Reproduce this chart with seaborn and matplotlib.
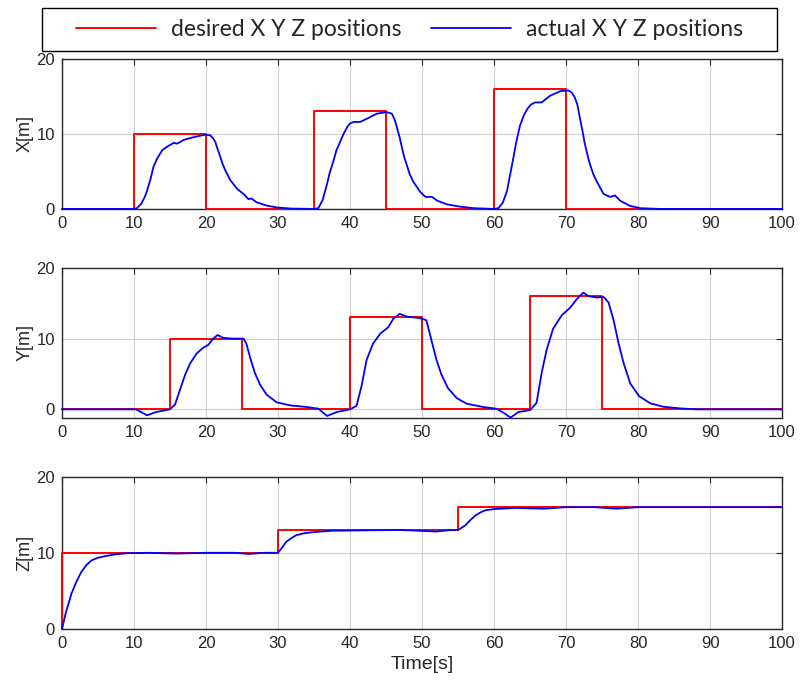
import matplotlib
matplotlib.use("Agg")
import matplotlib.pyplot as plt
from matplotlib.patches import Rectangle
import seaborn as sns

# desired step references (time of change, value)
x_des_t = [0, 10, 20, 35, 45, 60, 70, 100]
x_des = [0, 10, 0, 13, 0, 16, 0, 0]
y_des_t = [0, 15, 25, 40, 50, 65, 75, 100]
y_des = [0, 10, 0, 13, 0, 16, 0, 0]
z_des_t = [0, 0, 30, 55, 100]
z_des = [0, 10, 13, 16, 16]

# actual positions
x_time = [0, 10, 10.4, 11.0, 11.5, 11.8, 12.3, 12.7, 13.2, 13.9, 14.6, 15.5, 16.0, 16.9,
          18.0, 18.9, 19.9, 20.6, 21.0, 21.3, 21.6, 22.0, 22.3, 22.7, 23.4, 24.3, 25.2,
          25.9, 26.3, 27.0, 28.4, 29.8, 31.7, 35.0, 35.6, 36.2, 36.8, 37.2, 37.7, 38.1,
          38.6, 39.1, 39.6, 40.0, 40.5, 41.4, 42.3, 43.7, 45.1, 45.8, 46.2, 46.5, 46.9,
          47.2, 47.5, 47.9, 48.3, 48.8, 49.8, 50.5, 51.4, 52.1, 53.5, 55.3, 57.2, 60.0,
          60.6, 61.2, 61.8, 62.2, 62.7, 63.1, 63.6, 64.1, 64.6, 65.1, 65.7, 66.6, 67.8,
          69.2, 70.3, 70.8, 71.2, 71.6, 71.9, 72.3, 72.6, 73.0, 73.3, 73.8, 74.3, 75.2,
          76.1, 76.8, 77.5, 78.9, 80.3, 83, 100]
x_actual = [0, 0, 0.1, 0.7, 1.6, 2.4, 4.0, 5.6, 6.7, 7.8, 8.3, 8.8, 8.7, 9.2,
            9.5, 9.7, 9.9, 9.8, 9.4, 8.9, 8.0, 6.9, 6.0, 5.1, 3.8, 2.7, 2.0,
            1.3, 1.4, 0.9, 0.45, 0.2, 0.05, 0, 0.1, 1.2, 3.3, 4.9, 6.4, 7.8,
            8.9, 10.0, 10.9, 11.4, 11.6, 11.6, 12.0, 12.7, 12.9, 12.7, 11.9, 10.9, 9.5,
            8.2, 7.0, 5.8, 4.6, 3.6, 2.2, 1.6, 1.6, 1.1, 0.6, 0.3, 0.1, 0,
            0.1, 0.8, 2.4, 4.4, 6.9, 9.0, 11.1, 12.4, 13.3, 13.9, 14.2, 14.2, 15.1,
            15.7, 15.8, 15.5, 14.9, 13.8, 12.2, 10.3, 8.7, 7.1, 6.0, 4.6, 3.6, 2.0,
            1.6, 1.8, 1.1, 0.4, 0.1, 0, 0]

y_time = [0, 10.3, 11.0, 11.8, 13.1, 15.0, 15.7, 16.4, 17.1, 17.8, 18.7, 19.6, 20.3,
          21.0, 21.6, 22.4, 23.8, 25.2, 25.6, 26.1, 26.8, 27.5, 28.4, 29.8, 31.7, 34.0,
          35.6, 36.8, 38.2, 40.0, 40.9, 41.6, 42.3, 43.2, 44.2, 45.3, 46.0, 46.9, 47.9,
          49.7, 50.6, 51.3, 52.0, 52.7, 53.6, 54.8, 56.2, 58.5, 60.3, 61.2, 62.3, 63.4,
          65.0, 65.9, 66.6, 67.3, 68.2, 69.4, 70.6, 71.5, 72.4, 73.1, 74.3, 75.2, 75.9,
          76.6, 77.3, 78.0, 78.9, 80.1, 81.7, 83.5, 85.8, 88.1, 100]
y_actual = [0, 0, -0.4, -0.84, -0.37, 0, 0.7, 2.8, 4.9, 6.5, 7.9, 8.7, 9.1,
            10.0, 10.5, 10.1, 10.0, 10.0, 9.3, 7.4, 5.1, 3.5, 2.1, 1.0, 0.56, 0.33,
            0.1, -0.93, -0.37, 0, 0.5, 3.3, 7.0, 9.3, 10.7, 11.6, 12.8, 13.5, 13.1,
            12.9, 12.6, 9.8, 7.0, 4.9, 3.0, 1.6, 0.8, 0.33, 0.1, -0.4, -1.16, -0.37,
            -0.1, 0.9, 5.1, 8.4, 11.4, 13.3, 14.4, 15.6, 16.5, 16.0, 15.8, 15.9, 15.1,
            12.6, 9.3, 6.5, 3.7, 1.9, 0.84, 0.37, 0.14, 0, 0]

z_time = [0, 0.5, 1.3, 2.0, 2.7, 3.4, 4.1, 5.0, 6.2, 7.5, 9.1, 12, 16, 20, 24, 26, 28,
          30, 30.5, 31.1, 31.8, 32.5, 33.5, 34.7, 37.5, 42, 47, 52, 54, 55, 55.5, 56.0,
          56.7, 57.4, 58.1, 58.8, 60.0, 61.0, 63, 67, 70, 74, 77, 80, 85, 100]
z_actual = [0, 2.0, 4.6, 6.2, 7.5, 8.4, 9.0, 9.35, 9.6, 9.8, 9.95, 10.0, 9.9, 10.0, 10.0,
            9.85, 10.0, 10.0, 10.6, 11.4, 11.9, 12.3, 12.55, 12.7, 12.9, 12.95, 13.0, 12.8,
            13.0, 13.0, 13.3, 13.6, 14.3, 14.9, 15.3, 15.6, 15.75, 15.8, 15.9, 15.8, 16.0,
            16.0, 15.8, 16.0, 16.0, 16.0]

sns.set_style("white")
plt.rcParams['font.family'] = ['Liberation Sans', 'DejaVu Sans']

fig = plt.figure(figsize=(8.01, 6.85), dpi=100)
boxes = [[0.0774, 0.695, 0.899, 0.219],
         [0.0774, 0.390, 0.899, 0.219],
         [0.0774, 0.082, 0.899, 0.222]]
panels = [(x_des_t, x_des, x_time, x_actual, 'X[m]', (0, 20)),
          (y_des_t, y_des, y_time, y_actual, 'Y[m]', (-1.2, 20)),
          (z_des_t, z_des, z_time, z_actual, 'Z[m]', (0, 20))]

for box, (dt, dv, at, av, lab, ylim) in zip(boxes, panels):
    ax = fig.add_axes(box)
    sns.lineplot(x=dt, y=dv, ax=ax, color='#ff0000', lw=1.4, drawstyle='steps-post',
                 estimator=None, sort=False, label='desired X Y Z positions',
                 legend=False, zorder=3, clip_on=False)
    sns.lineplot(x=at, y=av, ax=ax, color='#0000ff', lw=1.3,
                 estimator=None, sort=False, label='actual X Y Z positions',
                 legend=False, zorder=3, clip_on=False)
    ax.set_xlim(0, 100)
    ax.set_ylim(*ylim)
    ax.set_xticks(range(0, 101, 10))
    ax.set_yticks([0, 10, 20])
    ax.grid(True, color='#d0d0d0', lw=0.8)
    ax.tick_params(direction='in', top=True, right=True, length=4, width=0.8,
                   colors='#262626', labelsize=12, pad=5)
    for s in ax.spines.values():
        s.set_color('#262626')
        s.set_linewidth(1.0)
    ax.set_ylabel(lab, fontsize=13, labelpad=2)
    ax.set_xlabel('')

ax.set_xlabel('Time[s]', fontsize=14, labelpad=4)

# legend box outline
fig.patches.append(Rectangle((0.0524, 0.9255), 0.9176, 0.0628, transform=fig.transFigure,
                             fill=False, edgecolor='black', linewidth=1.0))
handles, labels = ax.get_legend_handles_labels()
fig.legend(handles, labels, loc='center', ncol=2, bbox_to_anchor=(0.511, 0.957),
           frameon=False, handlelength=3.5, handletextpad=0.65, columnspacing=1.3,
           borderpad=0, borderaxespad=0,
           prop={'family': ['Lato', 'DejaVu Sans'], 'size': 16.5})

fig.savefig('out.png', dpi=100)
